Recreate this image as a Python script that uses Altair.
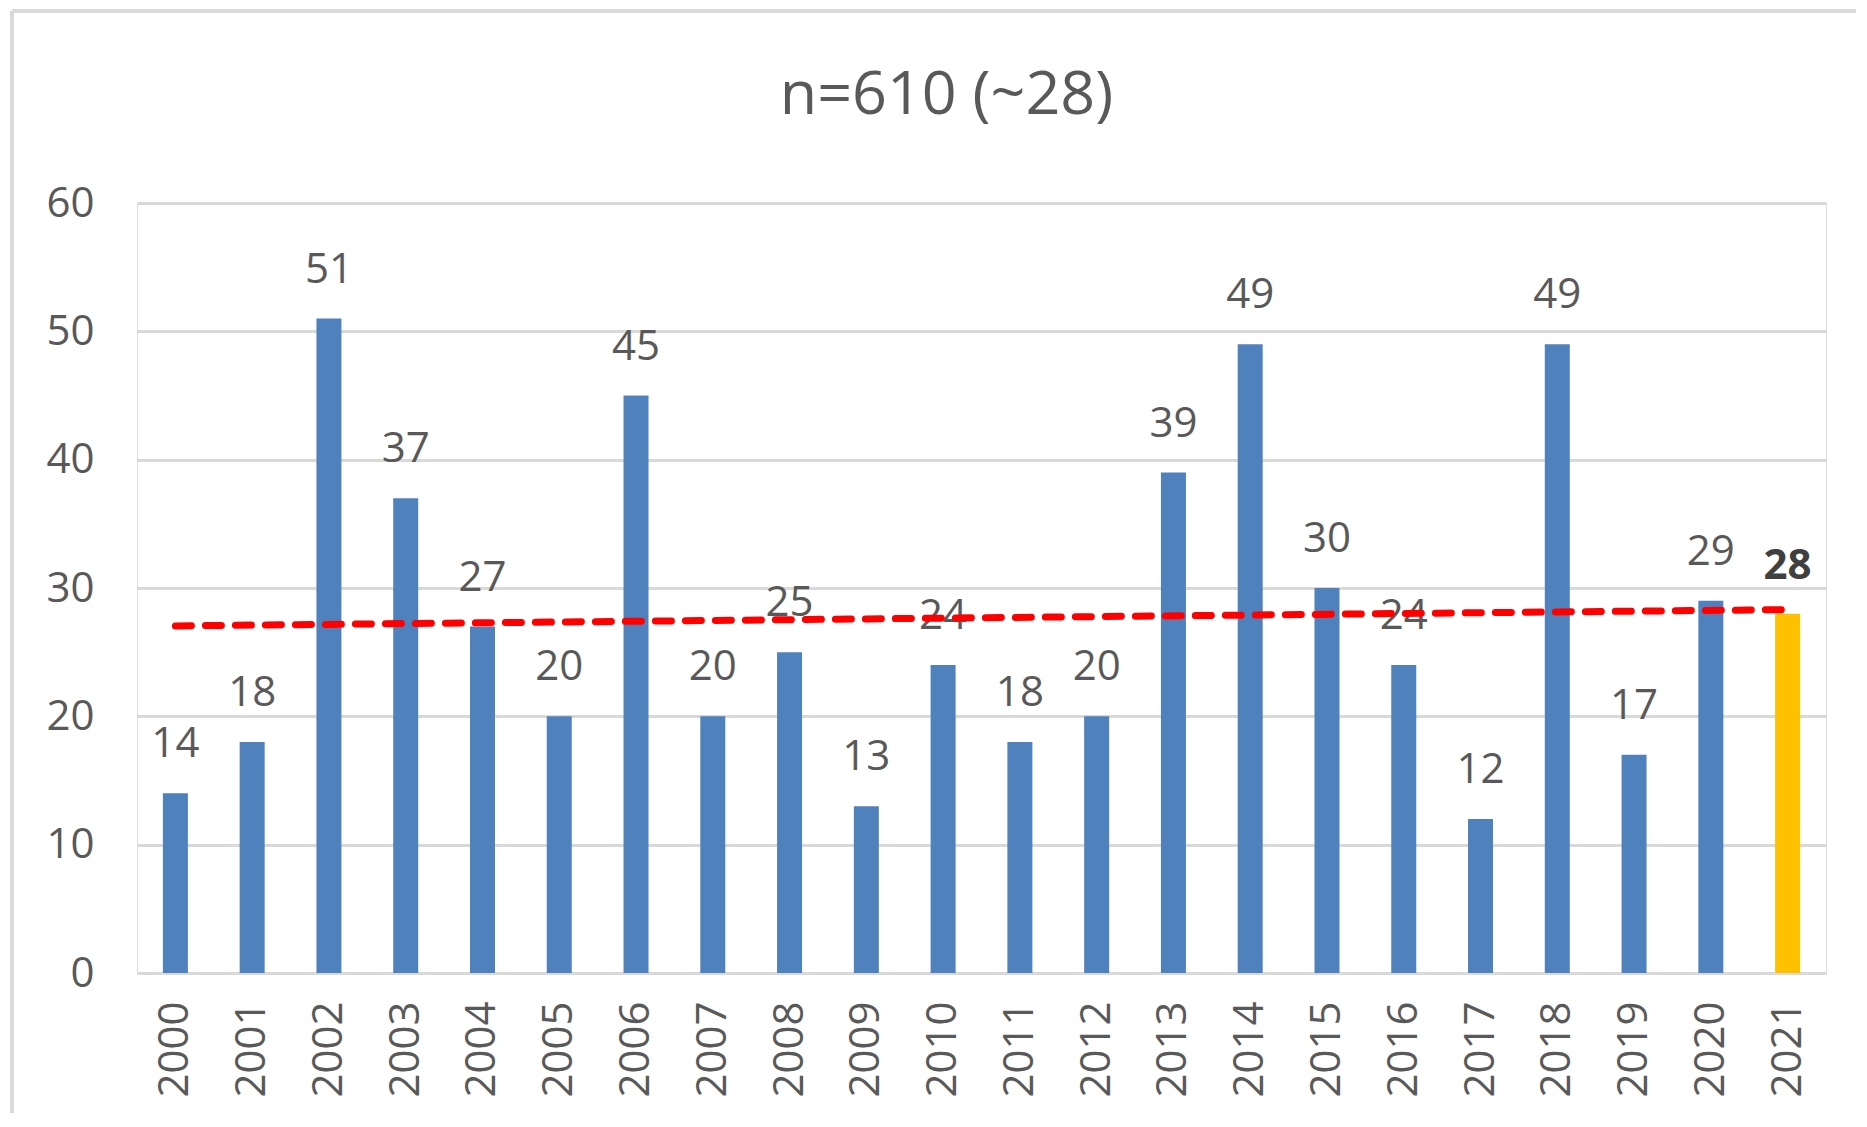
import altair as alt
import pandas as pd

years = [str(y) for y in range(2000, 2022)]
counts = [14, 18, 51, 37, 27, 20, 45, 20, 25, 13, 24, 18, 20, 39, 49, 30, 24, 12, 49, 17, 29, 28]
highlight_year = "2021"
title_text = "n=610 (~28)"
y_ticks = [0, 10, 20, 30, 40, 50, 60]

df = pd.DataFrame({"Year": years, "Count": counts})
df["Highlight"] = df["Year"] == highlight_year

FONT = "Open Sans"
GRAY = "#595959"

base = alt.Chart(df)

x_enc = alt.X(
    "Year:O",
    title=None,
    scale=alt.Scale(paddingInner=0, paddingOuter=0),
    axis=alt.Axis(
        labelAngle=-90,
        labelFont=FONT,
        labelFontSize=42,
        labelColor=GRAY,
        labelPadding=28,
        ticks=False,
        tickSize=0,
        domain=False,
        grid=False,
    ),
)
y_enc = alt.Y(
    "Count:Q",
    title=None,
    scale=alt.Scale(domain=[0, 60], nice=False),
    axis=alt.Axis(
        values=y_ticks,
        labelFont=FONT,
        labelFontSize=42,
        labelColor=GRAY,
        labelPadding=43,
        ticks=False,
        tickSize=0,
        domain=False,
        grid=True,
        gridColor="#d9d9d9",
        gridWidth=3,
    ),
)

bars = base.mark_bar(size=25).encode(
    x=x_enc,
    y=y_enc,
    color=alt.condition(
        alt.datum.Highlight, alt.value("#ffc000"), alt.value("#4f81bd")
    ),
)

labels = base.transform_filter(alt.datum.Year != highlight_year).mark_text(
    font=FONT, fontSize=42, color=GRAY, baseline="alphabetic", dy=-36
).encode(x="Year:O", y="Count:Q", text="Count:Q")

label_hi = base.transform_filter(alt.datum.Year == highlight_year).mark_text(
    font=FONT, fontSize=42, color="#404040", fontWeight="bold", baseline="alphabetic", dy=-35
).encode(x="Year:O", y="Count:Q", text="Count:Q")

trend = (
    base.transform_calculate(yr="toNumber(datum.Year)")
    .transform_regression("yr", "Count", method="linear")
    .transform_calculate(Year="toString(datum.yr)")
    .mark_line(color="#ff0000", strokeWidth=7, strokeDash=[16, 14], strokeCap="round")
    .encode(x="Year:O", y="Count:Q")
)

border_left = base.mark_rule(color="#d9d9d9", strokeWidth=3).encode(
    x=alt.value(-125), y=alt.value(-192), y2=alt.value(930)
)
border_top = base.mark_rule(color="#d9d9d9", strokeWidth=3).encode(
    x=alt.value(-125), x2=alt.value(1740), y=alt.value(-192)
)

chart = (
    alt.layer(bars, labels, label_hi, trend, border_left, border_top)
    .properties(
        width=1689,
        height=770,
        padding={"left": 129, "top": 195, "right": 30, "bottom": 140},
        autosize=alt.AutoSizeParams(type="none"),
        title=alt.TitleParams(
            text=title_text,
            font=FONT,
            fontSize=61,
            fontWeight="normal",
            color=GRAY,
            anchor="middle",
            baseline="alphabetic",
            dx=-35,
            offset=-165,
        ),
    )
    .configure_view(strokeWidth=0)
    .configure(background="white")
)

chart.save("out.html", embed_options={"renderer": "svg", "actions": False})
